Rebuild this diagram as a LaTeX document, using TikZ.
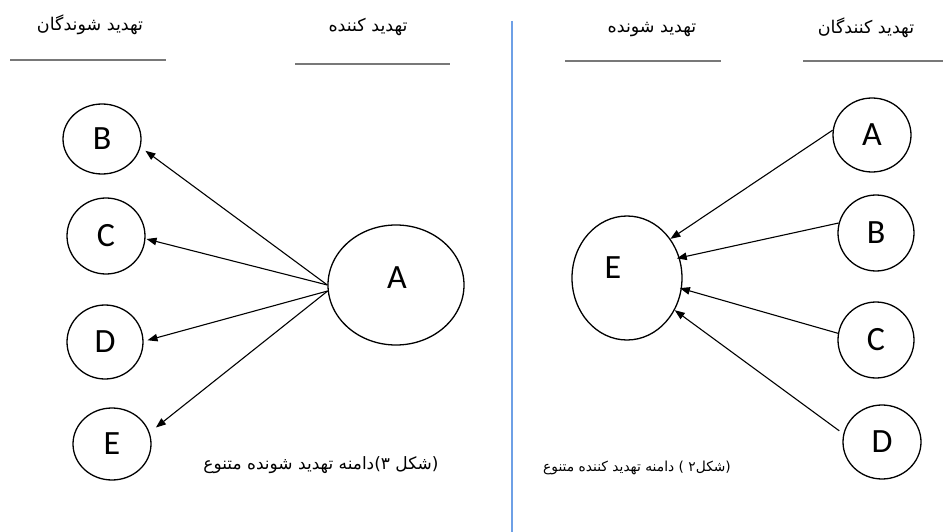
\documentclass[tikz,border=0pt]{standalone}
\usepackage{fontspec}
\setmainfont{Carlito}
\newfontfamily\arabicfont[Script=Arabic]{DejaVu Sans}
\TeXXeTstate=1
\usetikzlibrary{shapes.geometric,arrows.meta}
\definecolor{sepblue}{RGB}{110,160,230}
\definecolor{rulegray}{RGB}{120,120,120}
\begin{document}
\begin{tikzpicture}[x=1pt,y=-1pt,
  circ/.style={ellipse,draw,line width=1.3pt,inner sep=0pt,font=\fontsize{34}{40}\selectfont},
  lbl/.style={font=\fontsize{34}{40}\selectfont},
  arr/.style={line width=1.1pt,-{Triangle[length=10pt,width=7.5pt]}},
  head/.style={font=\arabicfont\fontsize{17.5}{21}\selectfont,inner sep=0pt},
  capt/.style={font=\arabicfont\fontsize{17}{20}\selectfont,inner sep=0pt},
  captsmall/.style={font=\arabicfont\fontsize{13.8}{17}\selectfont,inner sep=0pt},
  uline/.style={draw=rulegray,line width=1.4pt}]
\useasboundingbox (0,0) rectangle (943,532);

% separator
\draw[sepblue,line width=1.2pt] (512,21) -- (512,532);

% headers
\node[head] (h1) at (90,25) {\beginR تهدید شوندگان\endR};
\node[head] (h2) at (368,27) {\beginR تهدید کننده\endR};
\node[head] (h3) at (652,30) {\beginR تهدید شونده\endR};
\node[head] (h4) at (866,28) {\beginR تهدید کنندگان\endR};
\draw[uline] (10,60) -- (166,60);
\draw[uline] (295,64) -- (450,64);
\draw[uline] (565,61) -- (721,61);
\draw[uline] (803,61) -- (943,61);

% left figure
\node[circ,minimum width=136pt,minimum height=120pt,label={[lbl,xshift=1pt,yshift=7pt]center:A}] (LA) at (396,285) {};
\node[circ,minimum width=78pt,minimum height=70pt] (LB) at (102,139) {B};
\node[circ,minimum width=78pt,minimum height=76pt] (LC) at (106,236) {C};
\node[circ,minimum width=76pt,minimum height=74pt] (LD) at (105,342) {D};
\node[circ,minimum width=78pt,minimum height=72pt] (LE) at (112,444) {E};
\draw[arr,shorten >=6pt] (LA.180) -- (LB.-12);
\draw[arr,shorten >=1pt] (LA.180) -- (LC.-4);
\draw[arr,shorten >=4pt] (LA.185) -- (LD.1);
\draw[arr,shorten >=8pt] (LA.185) -- (LE.17);

% right figure
\node[circ,minimum width=110pt,minimum height=124pt,label={[lbl,xshift=-14pt,yshift=10pt]center:E}] (RE) at (627,278) {};
\node[circ,minimum width=78pt,minimum height=74pt] (RA) at (872,135) {A};
\node[circ,minimum width=76pt,minimum height=76pt] (RB) at (876,233) {B};
\node[circ,minimum width=76pt,minimum height=76pt] (RC) at (876,340) {C};
\node[circ,minimum width=78pt,minimum height=74pt] (RD) at (882,442) {D};
\draw[arr] (RA.173) -- (RE.42);
\draw[arr,shorten >=-3pt] (RB.165) -- (RE.21);
\draw[arr,shorten >=-2pt] (RC.170) -- (RE.-11);
\draw[arr,shorten <=5pt] (RD.168) -- (RE.-34);

% captions
\node[capt] (c1) at (321,465) {\beginR(شکل ۳)دامنه تهدید شونده متنوع\endR};
\node[captsmall] (c2) at (637,468) {\beginR(شکل۲ ) دامنه تهدید کننده متنوع\endR};
\end{tikzpicture}
\end{document}
